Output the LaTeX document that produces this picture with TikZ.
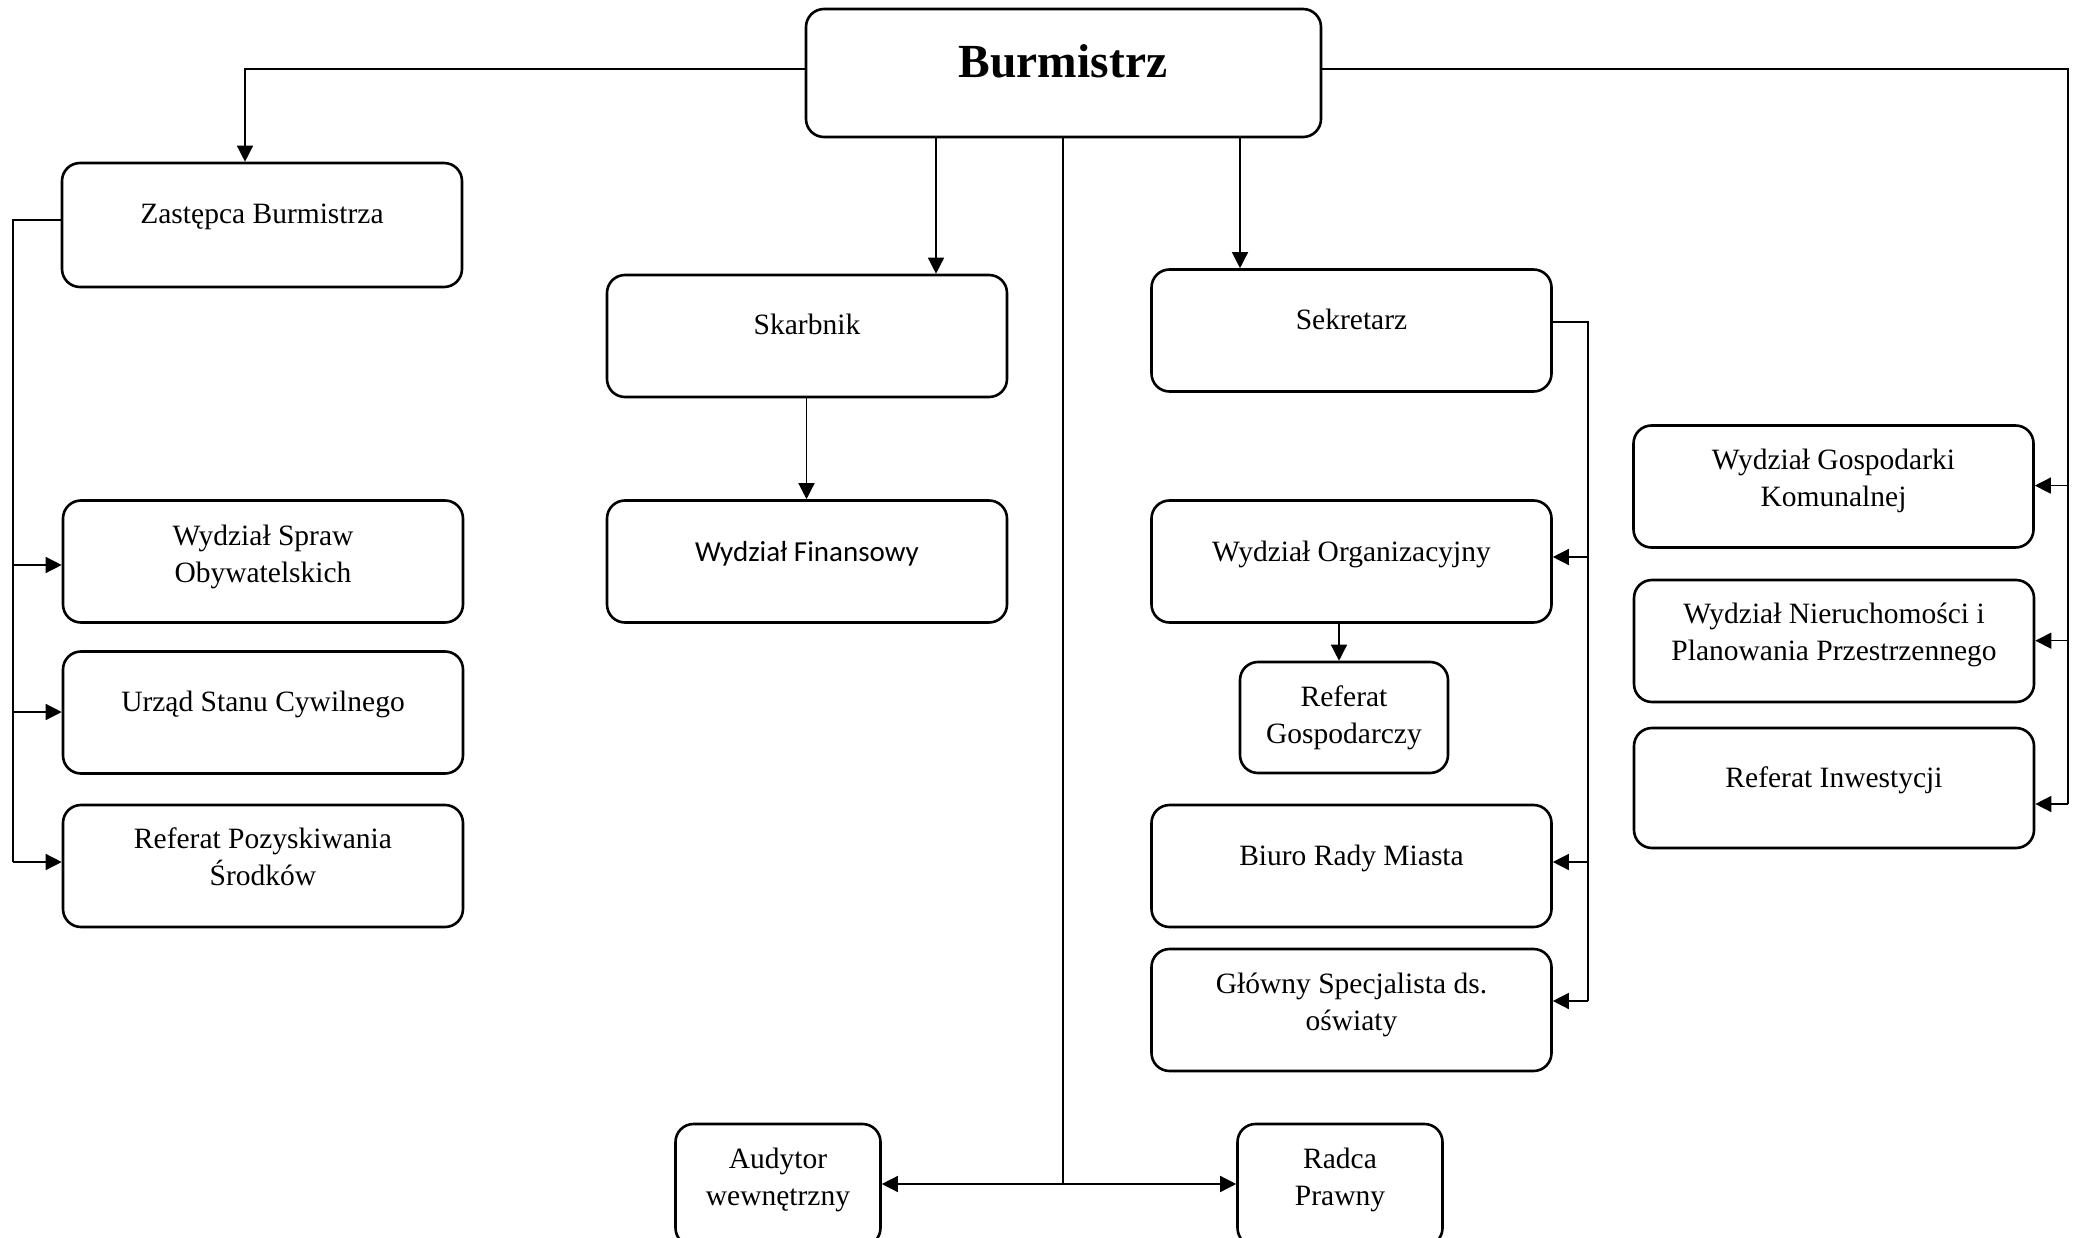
\documentclass[tikz,border=0pt]{standalone}
\usepackage{fontspec}
\setmainfont{Liberation Serif}
\newfontfamily\calib{Carlito}
\usetikzlibrary{arrows.meta}
\begin{document}
\begin{tikzpicture}[x=1pt,y=-1pt,
  box/.style={draw, line width=2.6pt, rounded corners=18pt, inner sep=0pt},
  wide/.style={box, minimum width=400pt, minimum height=122pt},
  small/.style={box, minimum width=205pt, minimum height=120pt},
  lbl/.style={anchor=base, align=center, inner sep=0pt, font=\fontsize{29.5}{36.5}\selectfont},
  wire/.style={line width=1.4pt},
  conn/.style={wire, -{Triangle[length=16pt,width=16pt]}},
]
\clip (0,0) rectangle (2080,1238);
\fill[white] (0,0) rectangle (2080,1238);

% boxes
\node[box, minimum width=515pt, minimum height=128pt] (burm) at (1063.5,73) {};
\node[wide, minimum height=124pt] (zast) at (262,225) {};
\node[wide] (skarb) at (807,336) {};
\node[wide] (wfin) at (807,561.5) {};
\node[wide] (wso) at (263,561.5) {};
\node[wide] (usc) at (263,712.5) {};
\node[wide] (rps) at (263,866) {};
\node[wide] (sekr) at (1351.5,330.5) {};
\node[wide] (worg) at (1351.5,561.5) {};
\node[box, minimum width=208pt, minimum height=111pt] (refg) at (1344,717.5) {};
\node[wide] (brm) at (1351.5,866) {};
\node[wide] (gs) at (1351.5,1010) {};
\node[wide] (wgk) at (1833.5,486.5) {};
\node[wide] (wnpp) at (1834,641) {};
\node[wide, minimum height=120pt] (rinw) at (1834,788) {};
\node[small, minimum height=122pt] (aud) at (778,1185) {};
\node[small, minimum height=122pt] (radca) at (1340,1185) {};

% labels (multi-line nodes: base anchor is on the last line)
\node[anchor=base, inner sep=0pt, font=\fontsize{47.5}{55}\selectfont\bfseries] (burmt) at (1063,78) {Burmistrz};
\node[lbl] (zastt) at (262,224) {Zastępca Burmistrza};
\node[lbl] (skarbt) at (807,335) {Skarbnik};
\node[lbl, font=\fontsize{29}{37}\selectfont\calib] (wfint) at (807,561) {Wydział Finansowy};
\node[lbl] (wsot) at (263,582) {Wydział Spraw\\Obywatelskich};
\node[lbl] (usct) at (263,711) {Urząd Stanu Cywilnego};
\node[lbl] (rpst) at (263,885) {Referat Pozyskiwania\\Środków};
\node[lbl] (sekrt) at (1351.5,330) {Sekretarz};
\node[lbl] (worgt) at (1351.5,561) {Wydział Organizacyjny};
\node[lbl] (refgt) at (1344,743) {Referat\\Gospodarczy};
\node[lbl] (brmt) at (1351.5,865) {Biuro Rady Miasta};
\node[lbl] (gst) at (1351.5,1030) {Główny Specjalista ds.\\oświaty};
\node[lbl] (wgkt) at (1833.5,506) {Wydział Gospodarki\\Komunalnej};
\node[lbl] (wnppt) at (1834,660) {Wydział Nieruchomości i\\Planowania Przestrzennego};
\node[lbl] (rinwt) at (1834,787) {Referat Inwestycji};
\node[lbl] (audt) at (778,1205) {Audytor\\wewnętrzny};
\node[lbl] (radcat) at (1340,1205) {Radca\\Prawny};

% connectors
\draw[conn] (burm.west |- 0,69) -| (zast.north -| 245,0);

\coordinate (rt) at (2068,804);
\draw[wire] (burm.east |- 0,69) -| (rt);
\draw[conn] (rt) -- (rinw.east |- rt);
\draw[conn] (rt |- 0,485.6) -- (wgk.east |- 0,485.6);
\draw[conn] (rt |- 0,640.7) -- (wnpp.east |- 0,640.7);

\draw[conn] (burm.south -| 936,0) -- (skarb.north -| 936,0);
\draw[conn] (burm.south -| 1240,0) -- (sekr.north -| 1240,0);

\coordinate (mid) at (1063,1184);
\draw[wire] (burm.south -| mid) -- (mid);
\draw[conn] (mid) -- (aud.east |- mid);
\draw[conn] (mid) -- (radca.west |- mid);

\coordinate (lt) at (13,862);
\draw[wire] (zast.west |- 0,220) -| (lt);
\draw[conn] (lt) -- (rps.west |- lt);
\draw[conn] (lt |- 0,565) -- (wso.west |- 0,565);
\draw[conn] (lt |- 0,712) -- (usc.west |- 0,712);

\draw[conn] (skarb.south -| 806.5,0) -- (wfin.north -| 806.5,0);

\coordinate (st) at (1588,1001);
\draw[wire] (sekr.east |- 0,322) -| (st);
\draw[conn] (st) -- (gs.east |- st);
\draw[conn] (st |- 0,557) -- (worg.east |- 0,557);
\draw[conn] (st |- 0,862) -- (brm.east |- 0,862);

\draw[conn] (worg.south -| 1339,0) -- (refg.north -| 1339,0);
\end{tikzpicture}
\end{document}
